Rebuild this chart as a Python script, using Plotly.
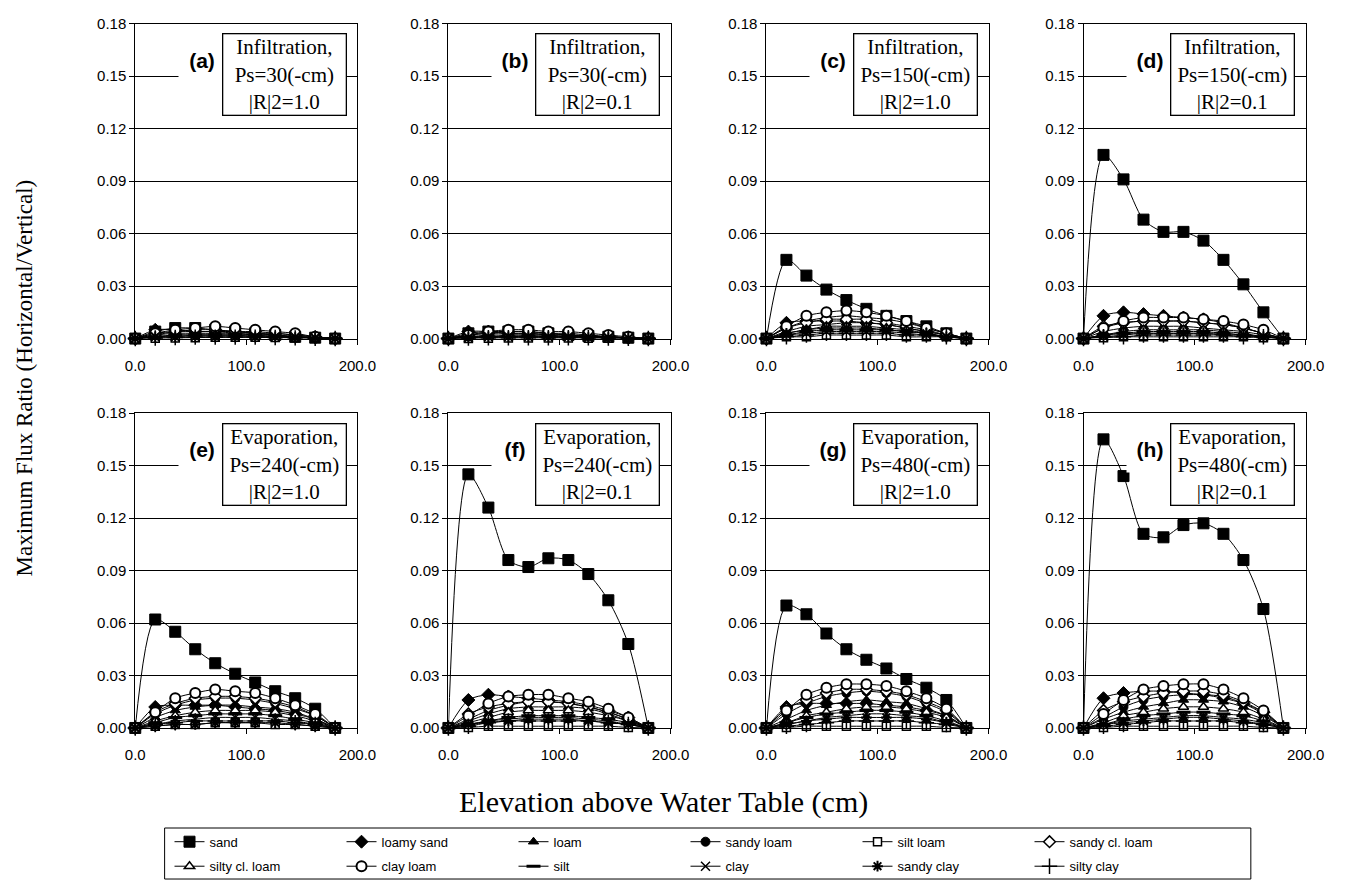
import plotly.graph_objects as go

# ---------------- data ----------------
X_CM = [0, 18, 36, 54, 72, 90, 108, 126, 144, 162, 180]
SOILS = ["sand", "loamy sand", "loam", "sandy loam", "silt loam", "sandy cl. loam",
         "silty cl. loam", "clay loam", "silt", "clay", "sandy clay", "silty clay"]
PANEL_LABELS = ["(a)", "(b)", "(c)", "(d)", "(e)", "(f)", "(g)", "(h)"]
PANEL_TITLES = [
    "Infiltration,<br>Ps=30(-cm)<br>|R|2=1.0",
    "Infiltration,<br>Ps=30(-cm)<br>|R|2=0.1",
    "Infiltration,<br>Ps=150(-cm)<br>|R|2=1.0",
    "Infiltration,<br>Ps=150(-cm)<br>|R|2=0.1",
    "Evaporation,<br>Ps=240(-cm)<br>|R|2=1.0",
    "Evaporation,<br>Ps=240(-cm)<br>|R|2=0.1",
    "Evaporation,<br>Ps=480(-cm)<br>|R|2=1.0",
    "Evaporation,<br>Ps=480(-cm)<br>|R|2=0.1",
]
Y_TICKS = [0.00, 0.03, 0.06, 0.09, 0.12, 0.15, 0.18]
X_TICKS = [0, 100, 200]
Y_TITLE = "Maximum Flux Ratio (Horizontal/Vertical)"
X_TITLE = "Elevation above Water Table (cm)"

# rows follow SOILS order
FLUX_A = [
    [0, 0.004, 0.006, 0.006, 0.005, 0.004, 0.003, 0.002, 0.001, 0.0005, 0],
    [0, 0.005, 0.005, 0.004, 0.004, 0.003, 0.002, 0.002, 0.001, 0.0005, 0],
    [0, 0.002, 0.003, 0.003, 0.003, 0.003, 0.003, 0.002, 0.001, 0.0005, 0],
    [0, 0.002, 0.004, 0.004, 0.004, 0.004, 0.003, 0.003, 0.002, 0.001, 0],
    [0, 0.0002, 0.0003, 0.0005, 0.0008, 0.0008, 0.0007, 0.0006, 0.0004, 0.0002, 0],
    [0, 0.003, 0.004, 0.005, 0.005, 0.004, 0.004, 0.003, 0.002, 0.001, 0],
    [0, 0.001, 0.002, 0.002, 0.002, 0.002, 0.002, 0.002, 0.001, 0.0005, 0],
    [0, 0.003, 0.005, 0.006, 0.007, 0.006, 0.005, 0.004, 0.003, 0.001, 0],
    [0, 0.001, 0.002, 0.002, 0.002, 0.002, 0.002, 0.001, 0.001, 0.0005, 0],
    [0, 0.001, 0.001, 0.002, 0.002, 0.002, 0.001, 0.001, 0.001, 0.0005, 0],
    [0, 0.001, 0.001, 0.001, 0.001, 0.001, 0.001, 0.001, 0.0005, 0.0003, 0],
    [0, 0.0003, 0.0006, 0.0008, 0.0008, 0.0008, 0.0008, 0.0006, 0.0004, 0.0002, 0],
]
FLUX_B = [
    [0, 0.003, 0.004, 0.004, 0.004, 0.003, 0.002, 0.0015, 0.001, 0.0005, 0],
    [0, 0.004, 0.004, 0.003, 0.003, 0.002, 0.002, 0.001, 0.001, 0.0003, 0],
    [0, 0.001, 0.002, 0.002, 0.002, 0.002, 0.002, 0.001, 0.001, 0.0003, 0],
    [0, 0.002, 0.003, 0.003, 0.003, 0.003, 0.002, 0.002, 0.001, 0.0005, 0],
    [0, 0.0001, 0.0002, 0.0003, 0.0003, 0.0003, 0.0003, 0.0002, 0.0002, 0.0001, 0],
    [0, 0.002, 0.003, 0.004, 0.004, 0.003, 0.003, 0.002, 0.001, 0.0005, 0],
    [0, 0.001, 0.001, 0.002, 0.002, 0.002, 0.001, 0.001, 0.001, 0.0003, 0],
    [0, 0.002, 0.004, 0.005, 0.005, 0.004, 0.004, 0.003, 0.002, 0.001, 0],
    [0, 0.001, 0.001, 0.001, 0.0015, 0.001, 0.001, 0.001, 0.001, 0.0003, 0],
    [0, 0.0005, 0.001, 0.001, 0.001, 0.001, 0.001, 0.001, 0.0005, 0.0002, 0],
    [0, 0.0005, 0.001, 0.001, 0.001, 0.001, 0.001, 0.0005, 0.0005, 0.0002, 0],
    [0, 0.0003, 0.0005, 0.0005, 0.0005, 0.0005, 0.0005, 0.0005, 0.0003, 0.0001, 0],
]
FLUX_C = [
    [0, 0.045, 0.036, 0.028, 0.022, 0.017, 0.013, 0.010, 0.007, 0.003, 0],
    [0, 0.009, 0.010, 0.010, 0.010, 0.009, 0.008, 0.006, 0.004, 0.002, 0],
    [0, 0.004, 0.007, 0.008, 0.009, 0.009, 0.008, 0.006, 0.004, 0.002, 0],
    [0, 0.006, 0.010, 0.012, 0.013, 0.012, 0.011, 0.009, 0.006, 0.003, 0],
    [0, 0.001, 0.001, 0.002, 0.002, 0.002, 0.002, 0.001, 0.001, 0.001, 0],
    [0, 0.006, 0.009, 0.011, 0.011, 0.011, 0.009, 0.007, 0.005, 0.002, 0],
    [0, 0.003, 0.005, 0.007, 0.007, 0.007, 0.006, 0.005, 0.003, 0.001, 0],
    [0, 0.007, 0.013, 0.015, 0.016, 0.015, 0.013, 0.010, 0.006, 0.003, 0],
    [0, 0.002, 0.004, 0.005, 0.005, 0.005, 0.005, 0.004, 0.003, 0.001, 0],
    [0, 0.002, 0.003, 0.004, 0.004, 0.004, 0.004, 0.003, 0.002, 0.001, 0],
    [0, 0.003, 0.005, 0.006, 0.006, 0.006, 0.005, 0.004, 0.003, 0.001, 0],
    [0, 0.001, 0.002, 0.003, 0.003, 0.003, 0.003, 0.002, 0.002, 0.001, 0],
]
FLUX_D = [
    [0, 0.105, 0.091, 0.068, 0.061, 0.061, 0.056, 0.045, 0.031, 0.015, 0],
    [0, 0.013, 0.015, 0.014, 0.013, 0.012, 0.011, 0.009, 0.006, 0.003, 0],
    [0, 0.004, 0.006, 0.007, 0.007, 0.007, 0.006, 0.005, 0.004, 0.002, 0],
    [0, 0.006, 0.009, 0.010, 0.010, 0.010, 0.009, 0.008, 0.006, 0.003, 0],
    [0, 0.0005, 0.001, 0.001, 0.001, 0.001, 0.001, 0.001, 0.001, 0.0005, 0],
    [0, 0.007, 0.009, 0.010, 0.010, 0.010, 0.009, 0.008, 0.006, 0.003, 0],
    [0, 0.002, 0.004, 0.005, 0.005, 0.005, 0.005, 0.004, 0.003, 0.001, 0],
    [0, 0.006, 0.010, 0.012, 0.012, 0.012, 0.011, 0.010, 0.008, 0.005, 0],
    [0, 0.002, 0.003, 0.004, 0.004, 0.004, 0.004, 0.003, 0.002, 0.001, 0],
    [0, 0.001, 0.002, 0.003, 0.003, 0.003, 0.003, 0.002, 0.002, 0.001, 0],
    [0, 0.002, 0.003, 0.003, 0.003, 0.003, 0.003, 0.003, 0.002, 0.001, 0],
    [0, 0.001, 0.001, 0.002, 0.002, 0.002, 0.002, 0.002, 0.001, 0.001, 0],
]
FLUX_E = [
    [0, 0.062, 0.055, 0.045, 0.037, 0.031, 0.026, 0.021, 0.017, 0.011, 0],
    [0, 0.012, 0.013, 0.013, 0.013, 0.012, 0.011, 0.010, 0.008, 0.005, 0],
    [0, 0.006, 0.010, 0.012, 0.013, 0.013, 0.012, 0.011, 0.009, 0.005, 0],
    [0, 0.008, 0.013, 0.016, 0.017, 0.017, 0.016, 0.014, 0.011, 0.007, 0],
    [0, 0.001, 0.002, 0.002, 0.003, 0.003, 0.003, 0.002, 0.002, 0.001, 0],
    [0, 0.009, 0.014, 0.017, 0.018, 0.018, 0.017, 0.015, 0.012, 0.007, 0],
    [0, 0.004, 0.007, 0.009, 0.010, 0.010, 0.010, 0.009, 0.007, 0.004, 0],
    [0, 0.009, 0.017, 0.020, 0.022, 0.021, 0.020, 0.017, 0.013, 0.008, 0],
    [0, 0.003, 0.006, 0.007, 0.008, 0.008, 0.008, 0.007, 0.005, 0.003, 0],
    [0, 0.002, 0.004, 0.005, 0.006, 0.006, 0.006, 0.005, 0.004, 0.002, 0],
    [0, 0.001, 0.002, 0.002, 0.003, 0.003, 0.003, 0.003, 0.002, 0.001, 0],
    [0, 0.002, 0.003, 0.004, 0.004, 0.004, 0.004, 0.004, 0.003, 0.002, 0],
]
FLUX_F = [
    [0, 0.145, 0.126, 0.096, 0.092, 0.097, 0.096, 0.088, 0.073, 0.048, 0],
    [0, 0.016, 0.019, 0.018, 0.017, 0.016, 0.015, 0.013, 0.010, 0.006, 0],
    [0, 0.004, 0.008, 0.011, 0.012, 0.012, 0.012, 0.011, 0.008, 0.004, 0],
    [0, 0.005, 0.010, 0.013, 0.015, 0.015, 0.014, 0.012, 0.009, 0.005, 0],
    [0, 0.0003, 0.001, 0.001, 0.001, 0.001, 0.001, 0.001, 0.001, 0.0003, 0],
    [0, 0.008, 0.012, 0.014, 0.015, 0.015, 0.014, 0.012, 0.009, 0.005, 0],
    [0, 0.003, 0.006, 0.009, 0.010, 0.010, 0.010, 0.009, 0.007, 0.004, 0],
    [0, 0.007, 0.014, 0.018, 0.019, 0.019, 0.017, 0.015, 0.011, 0.006, 0],
    [0, 0.002, 0.004, 0.006, 0.007, 0.007, 0.007, 0.006, 0.005, 0.003, 0],
    [0, 0.002, 0.004, 0.005, 0.006, 0.006, 0.006, 0.005, 0.004, 0.002, 0],
    [0, 0.002, 0.003, 0.004, 0.005, 0.005, 0.005, 0.004, 0.003, 0.002, 0],
    [0, 0.001, 0.003, 0.004, 0.004, 0.004, 0.004, 0.004, 0.003, 0.002, 0],
]
FLUX_G = [
    [0, 0.070, 0.065, 0.054, 0.045, 0.039, 0.034, 0.028, 0.023, 0.016, 0],
    [0, 0.012, 0.014, 0.014, 0.014, 0.014, 0.013, 0.012, 0.010, 0.007, 0],
    [0, 0.005, 0.010, 0.013, 0.015, 0.016, 0.015, 0.014, 0.011, 0.007, 0],
    [0, 0.008, 0.014, 0.018, 0.020, 0.021, 0.020, 0.018, 0.014, 0.009, 0],
    [0, 0.0003, 0.001, 0.001, 0.001, 0.001, 0.001, 0.001, 0.001, 0.0003, 0],
    [0, 0.011, 0.016, 0.020, 0.022, 0.022, 0.021, 0.019, 0.015, 0.010, 0],
    [0, 0.003, 0.007, 0.009, 0.011, 0.012, 0.012, 0.011, 0.009, 0.006, 0],
    [0, 0.010, 0.019, 0.023, 0.025, 0.025, 0.024, 0.021, 0.017, 0.011, 0],
    [0, 0.003, 0.006, 0.008, 0.009, 0.010, 0.010, 0.009, 0.007, 0.004, 0],
    [0, 0.002, 0.004, 0.006, 0.007, 0.008, 0.008, 0.007, 0.006, 0.003, 0],
    [0, 0.002, 0.004, 0.005, 0.006, 0.006, 0.006, 0.006, 0.005, 0.003, 0],
    [0, 0.001, 0.002, 0.003, 0.004, 0.004, 0.004, 0.004, 0.003, 0.002, 0],
]
FLUX_H = [
    [0, 0.165, 0.144, 0.111, 0.109, 0.116, 0.117, 0.111, 0.096, 0.068, 0],
    [0, 0.017, 0.020, 0.021, 0.021, 0.020, 0.019, 0.017, 0.014, 0.009, 0],
    [0, 0.005, 0.009, 0.012, 0.014, 0.016, 0.016, 0.015, 0.012, 0.007, 0],
    [0, 0.006, 0.012, 0.016, 0.018, 0.019, 0.019, 0.018, 0.014, 0.008, 0],
    [0, 0.0003, 0.001, 0.001, 0.001, 0.001, 0.001, 0.001, 0.001, 0.0003, 0],
    [0, 0.010, 0.015, 0.018, 0.020, 0.021, 0.021, 0.019, 0.015, 0.009, 0],
    [0, 0.003, 0.007, 0.009, 0.011, 0.012, 0.012, 0.011, 0.009, 0.005, 0],
    [0, 0.008, 0.016, 0.022, 0.024, 0.025, 0.025, 0.022, 0.017, 0.010, 0],
    [0, 0.002, 0.005, 0.007, 0.008, 0.009, 0.009, 0.008, 0.007, 0.004, 0],
    [0, 0.002, 0.004, 0.005, 0.006, 0.007, 0.007, 0.006, 0.005, 0.003, 0],
    [0, 0.002, 0.003, 0.004, 0.005, 0.006, 0.006, 0.005, 0.004, 0.002, 0],
    [0, 0.001, 0.002, 0.003, 0.004, 0.004, 0.004, 0.004, 0.003, 0.002, 0],
]
PANELS = [FLUX_A, FLUX_B, FLUX_C, FLUX_D, FLUX_E, FLUX_F, FLUX_G, FLUX_H]

# ---------------- styles ----------------
W, H = 1354, 888
SERIF = "Liberation Serif, Times New Roman, serif"
SANS = "Liberation Sans, Arial, sans-serif"
COL_LEFT = [128, 448, 773, 1097]
PANEL_W = 227
ROW_TOP = [15, 412]
PANEL_H = 321

MARKERS = {
    "sand": dict(symbol="square", size=11, color="black", line=dict(color="black", width=1)),
    "loamy sand": dict(symbol="diamond", size=10, color="black", line=dict(color="black", width=1)),
    "loam": dict(symbol="triangle-up", size=9, color="black", line=dict(color="black", width=1)),
    "sandy loam": dict(symbol="circle", size=9, color="black", line=dict(color="black", width=1)),
    "silt loam": dict(symbol="square", size=8, color="white", line=dict(color="black", width=1.5)),
    "sandy cl. loam": dict(symbol="diamond", size=9, color="white", line=dict(color="black", width=1.5)),
    "silty cl. loam": dict(symbol="triangle-up", size=9, color="white", line=dict(color="black", width=1.5)),
    "clay loam": dict(symbol="circle", size=10, color="white", line=dict(color="black", width=2)),
    "silt": dict(symbol="line-ew", size=10, color="black", line=dict(color="black", width=3)),
    "clay": dict(symbol="x-thin", size=9, color="black", line=dict(color="black", width=1.5)),
    "sandy clay": dict(symbol="asterisk", size=9, color="black", line=dict(color="black", width=2)),
    "silty clay": dict(symbol="cross-thin", size=11, color="black", line=dict(color="black", width=1.5)),
}

fig = go.Figure()
layout = dict(width=W, height=H, margin=dict(l=0, r=0, t=0, b=0),
              paper_bgcolor="white", plot_bgcolor="white", showlegend=True)
annotations = []

for p, data in enumerate(PANELS):
    r, c = divmod(p, 4)
    k = p + 1
    sfx = "" if k == 1 else str(k)
    left, top = COL_LEFT[c], ROW_TOP[r]
    layout["xaxis" + sfx] = dict(
        domain=[left / W, (left + PANEL_W) / W], anchor="y" + sfx,
        range=[0, 200], tickvals=X_TICKS, tickformat=".1f",
        ticks="outside", ticklen=5, tickcolor="black", ticklabelstandoff=8,
        showline=True, linecolor="black", linewidth=1, mirror=True,
        showgrid=False, zeroline=False,
        tickfont=dict(family=SANS, size=15, color="black"))
    layout["yaxis" + sfx] = dict(
        domain=[1 - (top + PANEL_H) / H, 1 - top / H], anchor="x" + sfx,
        range=[0, 0.18], tickvals=Y_TICKS, tickformat=".2f",
        ticks="outside", ticklen=5, tickcolor="black",
        showline=True, linecolor="black", linewidth=1, mirror=True,
        showgrid=True, gridcolor="black", gridwidth=1, zeroline=False,
        tickfont=dict(family=SANS, size=15, color="black"))
    for s, soil in enumerate(SOILS):
        fig.add_trace(go.Scatter(
            x=X_CM, y=data[s], name=soil, mode="lines+markers",
            line=dict(color="black", width=1, shape="spline", smoothing=0.8),
            marker=MARKERS[soil], cliponaxis=False,
            xaxis="x" + sfx, yaxis="y" + sfx,
            showlegend=(p == 0), legend=("legend" if s < 6 else "legend2"),
            hoverinfo="skip"))
    annotations.append(dict(
        xref="paper", yref="paper", x=(left + 68) / W, y=1 - (top + 37) / H,
        text="<b>%s</b>" % PANEL_LABELS[p], showarrow=False,
        font=dict(family=SANS, size=21, color="black"),
        bgcolor="white", width=44, height=44, xanchor="center", yanchor="middle"))
    annotations.append(dict(
        xref="paper", yref="paper", x=(left + 152) / W, y=1 - (top + 52) / H,
        text=PANEL_TITLES[p], showarrow=False, align="center",
        font=dict(family=SERIF, size=21, color="black"),
        bgcolor="white", bordercolor="black", borderwidth=1.3, borderpad=1,
        width=120, xanchor="center", yanchor="middle"))

annotations.append(dict(
    xref="paper", yref="paper", x=15 / W, y=1 - 376 / H, text=Y_TITLE,
    showarrow=False, textangle=-90, font=dict(family=SERIF, size=23, color="black"),
    xanchor="center", yanchor="middle"))
annotations.append(dict(
    xref="paper", yref="paper", x=668 / W, y=1 - 808 / H, text=X_TITLE,
    showarrow=False, font=dict(family=SERIF, size=30, color="black"),
    xanchor="center", yanchor="middle"))

leg = dict(orientation="h", xanchor="left", yanchor="middle",
           entrywidth=127, entrywidthmode="pixels", itemwidth=30,
           font=dict(family=SANS, size=13, color="black"),
           bgcolor="rgba(0,0,0,0)", borderwidth=0, tracegroupgap=0)
layout["legend"] = dict(leg, x=163 / W, y=1 - 849 / H)
layout["legend2"] = dict(leg, x=163 / W, y=1 - 874 / H)
layout["annotations"] = annotations
layout["shapes"] = [dict(type="rect", xref="paper", yref="paper",
                         x0=158 / W, x1=1268 / W, y0=1 - 887 / H, y1=1 - 835 / H,
                         line=dict(color="black", width=1), fillcolor="rgba(0,0,0,0)")]
fig.update_layout(**layout)
fig.write_html("out.html")
